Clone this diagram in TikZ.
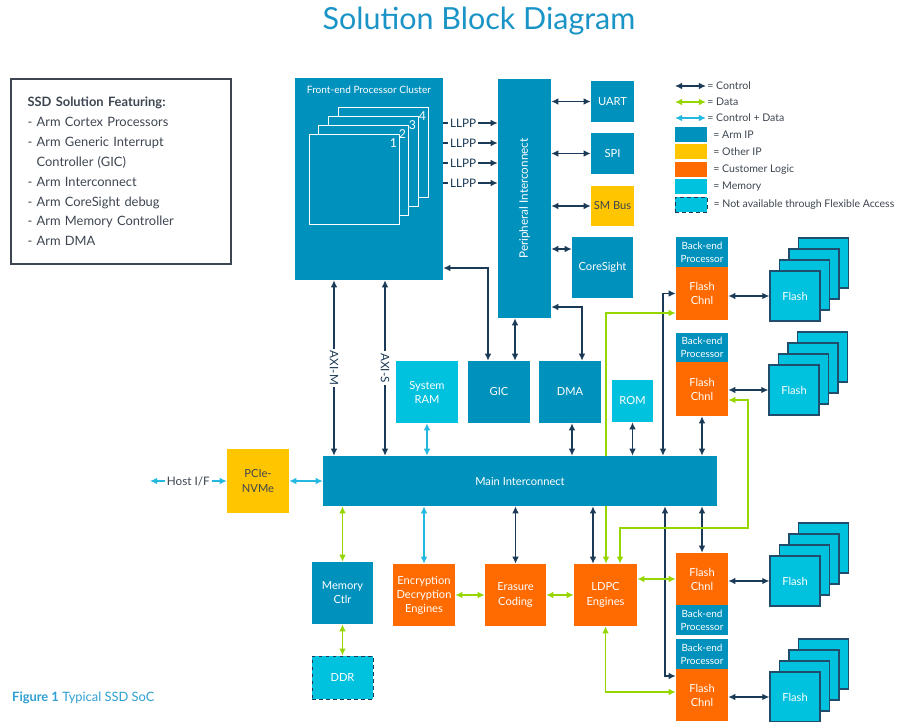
\documentclass[tikz,border=0pt]{standalone}
\usepackage{fontspec}
\setmainfont{Lato}
\usepackage{tikz}
\usetikzlibrary{positioning}
\usetikzlibrary{backgrounds}
\usetikzlibrary{arrows.meta}

\definecolor{armblue}{HTML}{0091BD}
\definecolor{memcyan}{HTML}{00C1DE}
\definecolor{custorange}{HTML}{FF6B00}
\definecolor{otheryellow}{HTML}{FFC600}
\definecolor{ctrlnavy}{HTML}{1B3A57}
\definecolor{datagreen}{HTML}{95D600}
\definecolor{cdcyan}{HTML}{22B8E0}
\definecolor{titleblue}{HTML}{1A94C6}
\definecolor{captblue}{HTML}{2E9FD0}
\definecolor{txtgray}{HTML}{3D4550}
\definecolor{flashedge}{HTML}{1F4D6B}

\begin{document}
\begin{tikzpicture}[x=0.3mm, y=-0.3mm, >={Latex[length=6pt, width=5.6pt]},
		sz/.style 2 args={minimum width=#1*0.3mm, minimum height=#2*0.3mm},
		blk/.style={inner sep=0pt, align=center, text=white,
			font=\fontsize{9.5}{12}\selectfont},
		armip/.style={blk, fill=armblue},
		otherip/.style={blk, fill=otheryellow, text=txtgray},
		custlogic/.style={blk, fill=custorange},
		memory/.style={blk, fill=memcyan},
		bep/.style={armip, sz={52}{30}, font=\fontsize{8.5}{11}\selectfont},
		flashch/.style={custlogic, sz={52}{53}},
		core/.style={draw=white, line width=0.8pt, fill=armblue, sz={90}{90}},
		corenum/.style={anchor=north east, inner sep=2pt, yshift=-2pt, text=white,
			font=\fontsize{10.5}{11}\selectfont},
		flashbk/.style={draw=flashedge, line width=1.1pt, fill=memcyan, sz={50}{50}, inner sep=0pt},
		flashfr/.style={flashbk, text=white, font=\fontsize{9.5}{12}\selectfont},
		ctrl/.style={<->, draw=ctrlnavy, line width=1.1pt},
		data/.style={<->, draw=datagreen, line width=1.1pt},
		ctrldata/.style={<->, draw=cdcyan, line width=1.1pt},
		lbl/.style={fill=white, inner sep=1.5pt, text=ctrlnavy,
			font=\fontsize{10}{11}\selectfont},
		legtxt/.style={text=txtgray, inner sep=1pt,
			font=\fontsize{9}{10}\selectfont},
		legsq/.style={sz={32}{15}, inner sep=0pt}
	]
	\useasboundingbox (0,0) rectangle (908,721);
	
	% title
	\node[font=\fontsize{26}{30}\selectfont, text=titleblue] (title) at (479,21) {Solution Block Diagram};
	
	% feature list
	\node[draw=txtgray, line width=1.5pt, anchor=north west, sz={220}{185},
		text width=56mm, align=left, inner xsep=13pt, text=txtgray,
		font=\fontsize{11}{17}\selectfont] (features) at (10,78) {
		\textbf{SSD Solution Featuring:}\\
		- Arm Cortex Processors\\
		- Arm Generic Interrupt\\
		\hphantom{- }Controller (GIC)\\
		- Arm Interconnect\\
		- Arm CoreSight debug\\
		- Arm Memory Controller\\
		- Arm DMA};
	
	% front-end cluster
	\node[armip, sz={148}{202},
		label={[anchor=north, inner sep=2pt, yshift=-5pt, text=white, font=\fontsize{8.6}{9}\selectfont]north:Front-end Processor Cluster}] (fpc) at (369,179) {};
	\node[core, label={[corenum]north east:4}] (core4) at (383,152) {};
	\node[core, label={[corenum]north east:3}] (core3) at (373,161) {};
	\node[core, label={[corenum]north east:2}] (core2) at (363,170) {};
	\node[core, label={[corenum]north east:1}] (core1) at (354,179) {};
	
	% peripherals
	\node[armip, sz={53}{239},
		label={[rotate=90, text=white, font=\fontsize{10}{11}\selectfont]center:Peripheral Interconnect}] (pi) at (524.5,198.5) {};
	\node[armip, sz={43}{41}] (uart) at (612.5,101.5) {UART};
	\node[armip, sz={43}{41}] (spi) at (612.5,153.5) {SPI};
	\node[otherip, sz={43}{40}] (smbus) at (612.5,206) {SM Bus};
	\node[armip, sz={61}{61}] (coresight) at (602.5,267.5) {CoreSight};
	
	% main interconnect and its clients
	\node[armip, sz={394}{50}] (mi) at (520,481) {Main Interconnect};
	\node[memory, sz={62}{62}] (sysram) at (427,392) {System\\RAM};
	\node[armip, sz={62}{62}] (gic) at (499,392) {GIC};
	\node[armip, sz={62}{62}] (dma) at (570,392) {DMA};
	\node[memory, sz={41}{42}] (rom) at (632.5,401) {ROM};
	\node[otherip, sz={62}{64}] (pcie) at (258,481) {PCIe-\\NVMe};
	\coordinate (host) at (150,481);
	\node[armip, sz={61}{62}] (memctlr) at (342.5,593) {Memory\\Ctlr};
	\node[memory, sz={61}{43}, draw=ctrlnavy, dashed, line width=0.8pt] (ddr) at (342.5,677.5) {DDR};
	\node[custlogic, sz={62}{62}] (enc) at (424,595) {Encryption\\Decryption\\Engines};
	\node[custlogic, sz={61}{62}] (erasure) at (515.5,595) {Erasure\\Coding};
	\node[custlogic, sz={63}{62}] (ldpc) at (605.5,595) {LDPC\\Engines};
	
	% back-end channels
	\node[bep] (bep1) at (702,252) {Back-end\\Processor};
	\node[flashch] (fc1) at (702,293.5) {Flash\\Chnl};
	\node[bep, sz={52}{29}] (bep2) at (702,347.5) {Back-end\\Processor};
	\node[flashch, sz={52}{54}] (fc2) at (702,389) {Flash\\Chnl};
	\node[flashch, sz={52}{52}] (fc3) at (702,579) {Flash\\Chnl};
	\node[bep] (bep3) at (702,620) {Back-end\\Processor};
	\node[bep] (bep4) at (702,654) {Back-end\\Processor};
	\node[flashch, sz={52}{52}] (fc4) at (702,695) {Flash\\Chnl};
	
	% flash stacks
	\node[flashbk] (fl1s3) at (823.5,263) {};
	\node[flashbk] (fl1s2) at (814,274) {};
	\node[flashbk] (fl1s1) at (804.5,285) {};
	\node[flashfr] (fl1) at (795,296) {Flash};
	\node[flashbk] (fl2s3) at (822.5,357) {};
	\node[flashbk] (fl2s2) at (813,368) {};
	\node[flashbk] (fl2s1) at (803.5,379) {};
	\node[flashfr] (fl2) at (794,390) {Flash};
	\node[flashbk] (fl3s3) at (823.5,548) {};
	\node[flashbk] (fl3s2) at (814,559) {};
	\node[flashbk] (fl3s1) at (804.5,570) {};
	\node[flashfr] (fl3) at (795,581) {Flash};
	\node[flashbk] (fl4s3) at (823.5,664) {};
	\node[flashbk] (fl4s2) at (814,675) {};
	\node[flashbk] (fl4s1) at (804.5,686) {};
	\node[flashfr] (fl4) at (795,697) {Flash};
	
	\begin{scope}[on background layer]
		% llpp
		\draw[ctrl] (core4.east |- 0,123) -- node[lbl] {LLPP} (pi.west |- 0,123);
		\draw[ctrl] (core4.east |- 0,143) -- node[lbl] {LLPP} (pi.west |- 0,143);
		\draw[ctrl] (core4.east |- 0,163) -- node[lbl] {LLPP} (pi.west |- 0,163);
		\draw[ctrl] (core4.east |- 0,183) -- node[lbl] {LLPP} (pi.west |- 0,183);
		
		% control
		\draw[ctrl] (pi.east |- uart.west) -- (uart.west);
		\draw[ctrl] (pi.east |- spi.west) -- (spi.west);
		\draw[ctrl] (pi.east |- smbus.west) -- (smbus.west);
		\draw[ctrl] (pi.east |- 0,249) -- (coresight.west |- 0,249);
		\draw[ctrl] (pi.east |- 0,307) -| (582,0 |- dma.north);
		\draw[ctrl] (fpc.east |- 0,268) -| (488,0 |- gic.north);
		\draw[ctrl] (515,0 |- pi.south) -- (515,0 |- gic.north);
		\draw[ctrl] (334,0 |- fpc.south) -- node[lbl, rotate=-90] {AXI-M} (334,0 |- mi.north);
		\draw[ctrl] (385,0 |- fpc.south) -- node[lbl, rotate=-90] {AXI-S} (385,0 |- mi.north);
		\draw[ctrl] (572,0 |- dma.south) -- (572,0 |- mi.north);
		\draw[ctrl] (rom.south) -- (rom.south |- mi.north);
		\draw[ctrl] (663,0 |- mi.north) |- (fc1.west);
		\draw[ctrl] (fc2.south) -- (fc2.south |- mi.north);
		\draw[ctrl] (erasure.north |- mi.south) -- (erasure.north);
		\draw[ctrl] (593,0 |- mi.south) -- (593,0 |- ldpc.north);
		\draw[ctrl] (fc3.north |- mi.south) -- (fc3.north);
		\draw[ctrl] (665,0 |- mi.south) |- (fc4.west |- 0,676);
		\draw[ctrl] (fc1.east |- fl1.west) -- (fl1.west);
		\draw[ctrl] (fc2.east |- fl2.west) -- (fl2.west);
		\draw[ctrl] (fc3.east |- fl3.west) -- (fl3.west);
		\draw[ctrl] (fc4.east |- fl4.west) -- (fl4.west);
		
		% data
		\draw[data] (memctlr.north |- mi.south) -- (memctlr.north);
		\draw[data] (memctlr.south) -- (ddr.north);
		\draw[data] (enc.east) -- (erasure.west);
		\draw[data] (erasure.east) -- (ldpc.west);
		\draw[data] (606,0 |- ldpc.north) |- (fc1.west |- 0,313);
		\draw[data] (620,0 |- ldpc.north) |- (748,528) |- (fc2.east |- 0,400);
		\draw[data] (ldpc.east |- fc3.west) -- (fc3.west);
		\draw[data] (ldpc.south) |- (fc4.west |- 0,692);
		
		% control + data
		\draw[ctrldata] (sysram.south) -- (sysram.south |- mi.north);
		\draw[ctrldata] (enc.north |- mi.south) -- (enc.north);
		\draw[ctrldata] (pcie.east) -- (mi.west |- pcie.east);
		\draw[ctrldata] (host) -- node[lbl, text=txtgray] {Host I/F} (pcie.west);
	\end{scope}
	
	% legend
	\coordinate (lgc1) at (675,86);
	\coordinate (lgc2) at (675,102);
	\coordinate (lgc3) at (675,118);
	\node[legtxt, anchor=west] (lgctrl) at (706,86) {= Control};
	\node[legtxt, anchor=west] (lgdata) at (706,102) {= Data};
	\node[legtxt, anchor=west] (lgcd) at (706,118) {= Control + Data};
	\draw[ctrl] (lgc1) -- (lgctrl.west);
	\draw[data] (lgc2) -- (lgdata.west);
	\draw[ctrldata] (lgc3) -- (lgcd.west);
	\node[legsq, fill=armblue, label={[legtxt, xshift=4pt]right:= Arm IP}] (lgarm) at (691,134.5) {};
	\node[legsq, fill=otheryellow, label={[legtxt, xshift=4pt]right:= Other IP}] (lgother) at (691,151.5) {};
	\node[legsq, fill=custorange, label={[legtxt, xshift=4pt]right:= Customer Logic}] (lgcust) at (691,169.5) {};
	\node[legsq, fill=memcyan, label={[legtxt, xshift=4pt]right:= Memory}] (lgmem) at (691,186.5) {};
	\node[legsq, fill=memcyan, draw=ctrlnavy, dashed, line width=0.8pt, label={[legtxt, xshift=4pt]right:= Not available through Flexible Access}] (lgna) at (691,204.5) {};
	
	% caption
	\node[anchor=west, inner sep=0pt, text=captblue, font=\fontsize{11}{13}\selectfont] (caption) at (12,698) {\textbf{Figure 1} Typical SSD SoC};
\end{tikzpicture}
\end{document}
